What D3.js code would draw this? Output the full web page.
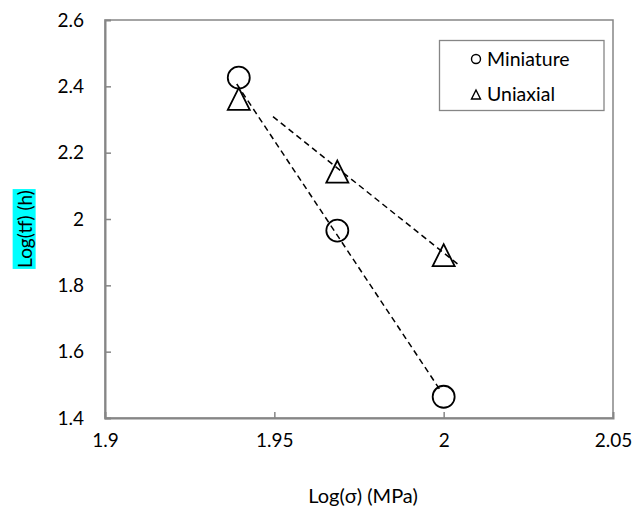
<!DOCTYPE html>
<html>
<head>
<meta charset="utf-8">
<script src="https://cdn.jsdelivr.net/npm/d3@7"></script>
<style>
  body { margin: 0; background: #fff; }
  text { font-family: Lato, "Open Sans", sans-serif; fill: #000; }
</style>
</head>
<body>
<svg id="chart"></svg>
<script>
const width = 635, height = 513;

// measured points (log stress vs log rupture time)
const miniX = [1.9395, 1.9686, 2.0];
const miniY = [2.426, 1.965, 1.464];
const uniX = [1.9395, 1.9686, 2.0];
const uniY = [2.362, 2.143, 1.891];

// dashed trend lines, endpoints
const miniTrendX = [1.9389, 1.9993];
const miniTrendY = [2.407, 1.479];
const uniTrendX = [1.9496, 2.0049];
const uniTrendY = [2.3085, 1.858];

const xTicks = [1.9, 1.95, 2, 2.05];
const yTicks = [1.4, 1.6, 1.8, 2, 2.2, 2.4, 2.6];

const margin = {top: 20, right: 22, bottom: 95, left: 105};
const fs = "19px";

const svg = d3.select("#chart")
  .attr("width", width)
  .attr("height", height);

svg.append("rect").attr("width", width).attr("height", height).attr("fill", "#fff");

const x = d3.scaleLinear().domain([1.9, 2.05]).range([margin.left, width - margin.right]);
const y = d3.scaleLinear().domain([1.4, 2.6]).range([height - margin.bottom, margin.top]);

const axisColor = "#868686";

// plot frame
svg.append("rect")
  .attr("x", x(1.9)).attr("y", y(2.6))
  .attr("width", x(2.05) - x(1.9)).attr("height", y(1.4) - y(2.6))
  .attr("fill", "none").attr("stroke", axisColor).attr("stroke-width", 1.5);

// x axis
const xAxis = svg.append("g")
  .attr("transform", `translate(0,${y(1.4)})`)
  .call(d3.axisBottom(x).tickValues(xTicks).tickSize(-6).tickPadding(16).tickFormat(d3.format("")));
xAxis.select(".domain").attr("stroke", axisColor).attr("stroke-width", 2);
xAxis.selectAll(".tick line").attr("stroke", axisColor).attr("stroke-width", 1.5);
xAxis.selectAll(".tick text").style("font-size", fs).attr("fill", "#000");
xAxis.selectAll(".tick").filter(d => d === 1.9 || d === 2.05).select("line").remove();

// y axis
const yAxis = svg.append("g")
  .attr("transform", `translate(${x(1.9)},0)`)
  .call(d3.axisLeft(y).tickValues(yTicks).tickSize(-6).tickPadding(21).tickFormat(d3.format("")));
yAxis.select(".domain").attr("stroke", axisColor).attr("stroke-width", 2);
yAxis.selectAll(".tick line").attr("stroke", axisColor).attr("stroke-width", 1.5);
yAxis.selectAll(".tick text").style("font-size", fs).attr("fill", "#000");
yAxis.selectAll(".tick").filter(d => d === 1.4 || d === 2.6).select("line").remove();

// trend lines
const line = d3.line().x(d => x(d[0])).y(d => y(d[1]));
[[miniTrendX, miniTrendY], [uniTrendX, uniTrendY]].forEach(([xs, ys]) => {
  svg.append("path")
    .datum(xs.map((v, i) => [v, ys[i]]))
    .attr("d", line)
    .attr("fill", "none")
    .attr("stroke", "#000")
    .attr("stroke-width", 1.5)
    .attr("stroke-dasharray", "6,4");
});

const tri = (cx, cy, s) => `M${cx},${cy - s / 2}L${cx + s / 2},${cy + s / 2}L${cx - s / 2},${cy + s / 2}Z`;

// markers
svg.append("g").selectAll("circle")
  .data(miniX.map((v, i) => [v, miniY[i]]))
  .join("circle")
  .attr("cx", d => x(d[0])).attr("cy", d => y(d[1])).attr("r", 11)
  .attr("fill", "none").attr("stroke", "#000").attr("stroke-width", 1.8);

svg.append("g").selectAll("path")
  .data(uniX.map((v, i) => [v, uniY[i]]))
  .join("path")
  .attr("d", d => tri(x(d[0]), y(d[1]), 22))
  .attr("fill", "none").attr("stroke", "#000").attr("stroke-width", 1.8);

// legend
const lg = svg.append("g");
lg.append("rect").attr("x", 439.5).attr("y", 40.5).attr("width", 164.5).attr("height", 70)
  .attr("fill", "#fff").attr("stroke", axisColor).attr("stroke-width", 1.3);
lg.append("circle").attr("cx", 476).attr("cy", 59).attr("r", 4.5)
  .attr("fill", "none").attr("stroke", "#000").attr("stroke-width", 1.4);
lg.append("path").attr("d", tri(476, 94.5, 9))
  .attr("fill", "none").attr("stroke", "#000").attr("stroke-width", 1.4);
lg.append("text").attr("x", 487).attr("y", 59).attr("dy", "0.35em").style("font-size", "19.5px").text("Miniature");
lg.append("text").attr("x", 487).attr("y", 94.5).attr("dy", "0.35em").style("font-size", "19.5px").text("Uniaxial");

// axis titles
svg.append("text")
  .attr("x", 363).attr("y", 503)
  .attr("text-anchor", "middle").style("font-size", "20px")
  .text("Log(σ) (MPa)");

const yl = svg.append("g").attr("transform", "translate(25,229) rotate(-90)");
const ylBg = yl.append("rect").attr("fill", "#00ffff");
const ylText = yl.append("text").attr("text-anchor", "middle").attr("dy", "0.35em")
  .style("font-size", fs).text("Log(tf) (h)");
const bb = ylText.node().getBBox();
ylBg.attr("x", bb.x - 1).attr("y", bb.y).attr("width", bb.width + 2).attr("height", bb.height);
</script>
</body>
</html>
